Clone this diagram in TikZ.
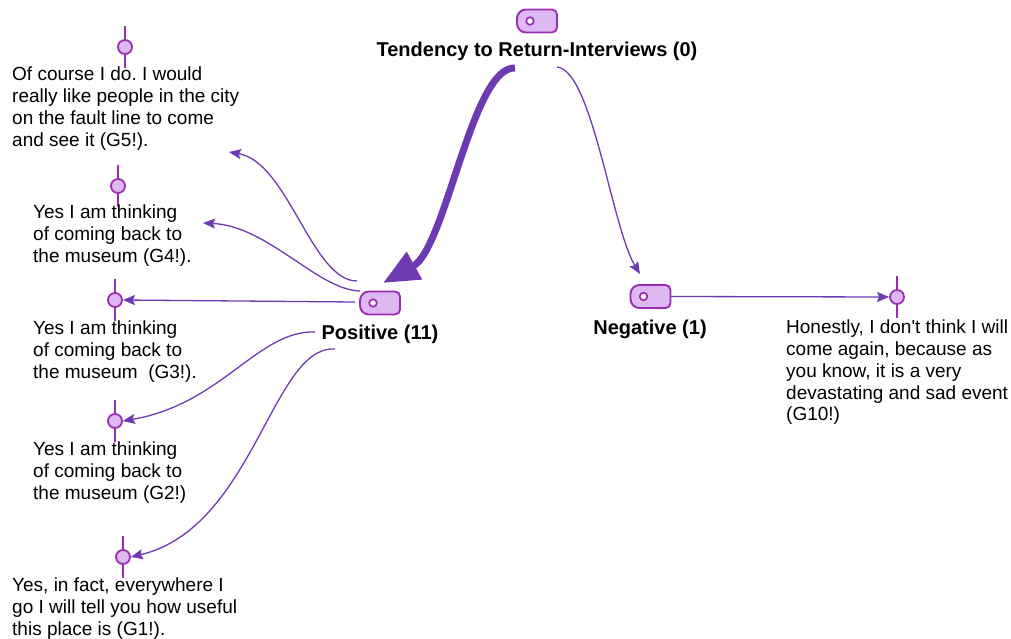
\documentclass[tikz,border=0pt]{standalone}
\usepackage{fontspec}
\setmainfont{Liberation Sans}
\usetikzlibrary{arrows.meta,calc}
\definecolor{edgecol}{HTML}{6E3AB2}
\definecolor{tagline}{HTML}{9A2DB0}
\definecolor{tagfill}{HTML}{DDB8F2}
% tag outline (40pt x 23pt): wide rounding on the left, tighter on the right, with a hole
\newcommand{\tagshape}[1]{%
  \draw[tagline, fill=tagfill, line width=1.9pt]
    ([shift={(-11pt,11.5pt)}]#1.center) -- ([shift={(15pt,11.5pt)}]#1.center)
    arc[start angle=90, end angle=0, radius=5pt]
    -- ([shift={(20pt,-6.5pt)}]#1.center)
    arc[start angle=0, end angle=-90, radius=5pt]
    -- ([shift={(-11pt,-11.5pt)}]#1.center)
    arc[start angle=270, end angle=180, radius=9pt]
    -- ([shift={(-20pt,2.5pt)}]#1.center)
    arc[start angle=180, end angle=90, radius=9pt] -- cycle;
  \draw[tagline, fill=white, line width=1.7pt]
    ([shift={(-7pt,0pt)}]#1.center) circle (3.8pt);}
\begin{document}
\frenchspacing
\begin{tikzpicture}[x=1pt,y=-1pt,
  codebox/.style={rectangle, minimum width=40pt, minimum height=23pt, inner sep=0pt},
  goal/.style={circle, draw=tagline, fill=tagfill, line width=1.8pt,
    minimum size=14pt, inner sep=0pt},
  stem/.style={draw=tagline, line width=1.8pt},
  quote/.style={align=left, inner sep=0pt, anchor=north west,
    font=\fontsize{19}{21.7}\selectfont},
  lab/.style={inner sep=0pt, font=\bfseries\fontsize{20}{22}\selectfont},
  link/.style={draw=edgecol, line width=1.3pt,
    -{Stealth[length=12pt,width=10pt,inset=2pt]}},
  heavy/.style={draw=edgecol, line width=7pt,
    -{Triangle[length=36pt,width=30pt]}}]
\useasboundingbox (0,0) rectangle (1011,639);

% codes
\node[codebox] (top) at (537,21) {};
\tagshape{top}
\node[lab] (toplab) at (537,51) {Tendency to Return-Interviews (0)};
\node[codebox] (pos) at (380,303) {};
\tagshape{pos}
\node[lab] (poslab) at (380,334) {Positive (11)};
\node[codebox] (neg) at (650.5,296.5) {};
\tagshape{neg}
\node[lab] (neglab) at (650,329) {Negative (1)};

% quotations: stems first, then the round markers
\foreach \n/\px/\py in {g5/125/47, g4/118/186, g3/115/300, g2/115/421, g1/123/557, g10/897/297}{
  \draw[stem] (\px,\py-21) -- (\px,\py+21);
  \node[goal] (\n) at (\px,\py) {};
}

\node[quote] (t5) at (12,67) {Of course I do. I would\\really like people in the city\\on the fault line to come\\and see it (G5!).};
\node[quote] (t4) at (33,205) {Yes I am thinking\\of coming back to\\the museum (G4!).};
\node[quote] (t3) at (33,321) {Yes I am thinking\\of coming back to\\the museum~ (G3!).};
\node[quote] (t2) at (33,442) {Yes I am thinking\\of coming back to\\the museum (G2!)};
\node[quote] (t1) at (12,578) {Yes, in fact, everywhere I\\go I will tell you how useful\\this place is (G1!).};
\node[quote] (t10) at (786,320) {Honestly, I don\textquotesingle t think I will\\come again, because as\\you know, it is a very\\devastating and sad event\\(G10!)};

% free ends of the links
\coordinate (s5) at (357,281);
\coordinate (e5) at (229,152);
\coordinate (s4) at (360,291);
\coordinate (e4) at (203,223);
\coordinate (s3) at (355,302);
\coordinate (s2) at (315,332);
\coordinate (s1) at (335,349);
\coordinate (ttop) at (515,68);
\coordinate (tneg) at (557,67);
\coordinate (hpos) at (383,283);
\coordinate (hneg) at (640,274);

% links
\draw[heavy] (ttop) .. controls (472,66) and (446,248) .. (hpos);
\draw[link] (tneg) .. controls (592,70) and (612,228) .. (hneg);
\draw[link] (neg.east) -- (g10.west);
\draw[link] (s5) .. controls (312,281) and (288,162) .. (e5);
\draw[link] (s4) .. controls (318,290) and (268,226) .. (e4);
\draw[link] (s3) -- (g3.east);
\draw[link] (s2) .. controls (258,330) and (222,404) .. (g2.east);
\draw[link] (s1) .. controls (272,345) and (254,528) .. (g1.east);
\end{tikzpicture}
\end{document}
